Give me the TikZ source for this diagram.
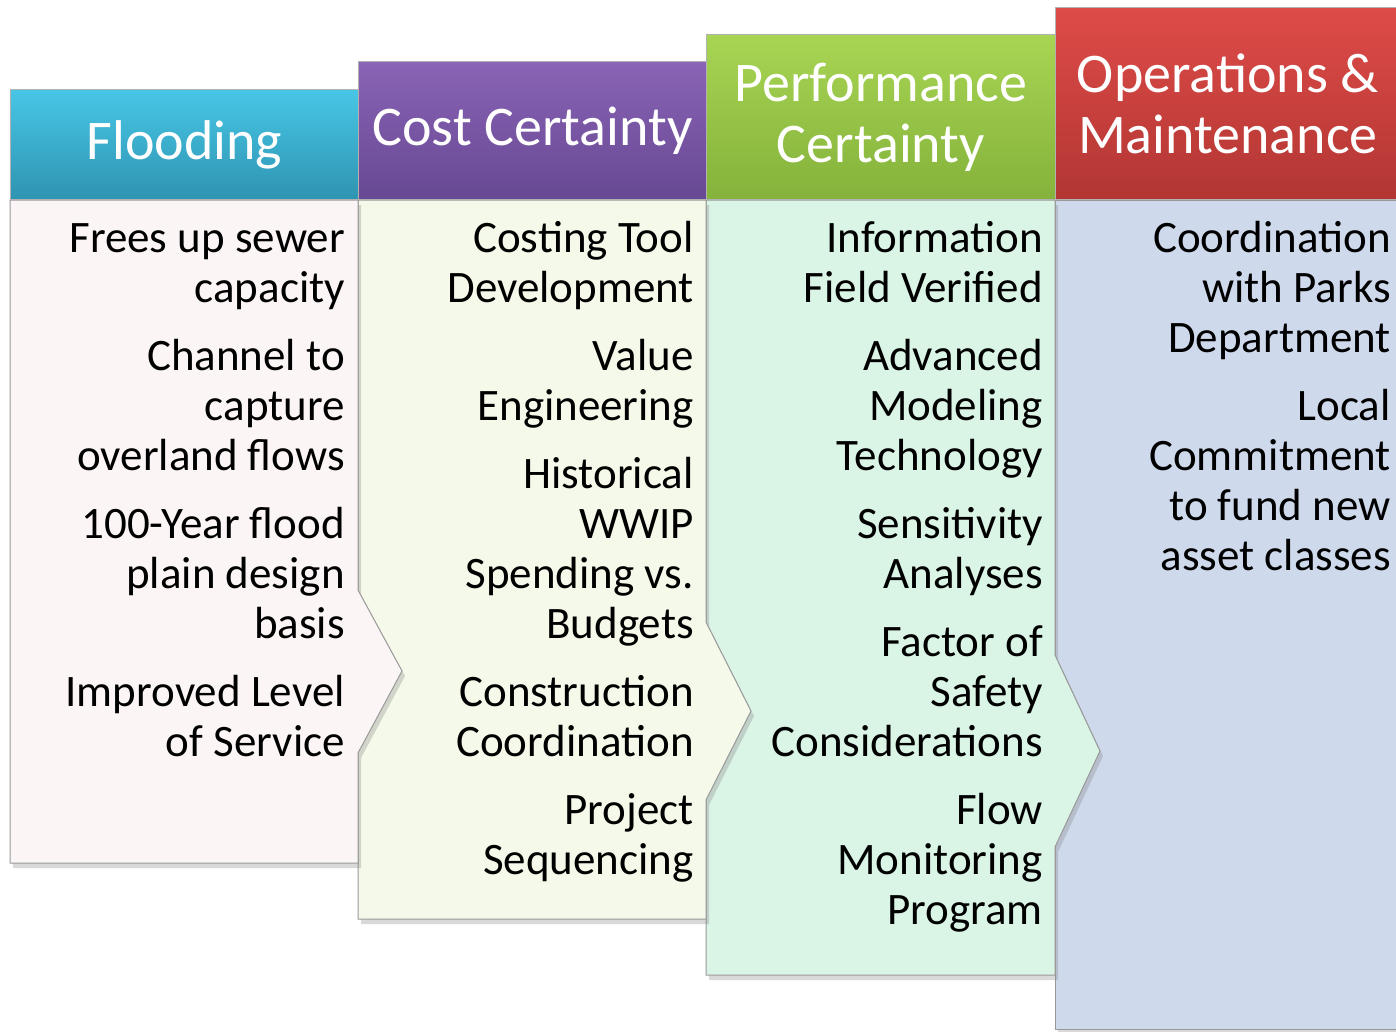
\documentclass[tikz,border=0pt]{standalone}
\usepackage{fontspec}
\setmainfont{Carlito}
\usetikzlibrary{shadows}
\definecolor{floodtop}{HTML}{48C6E6}
\definecolor{floodbot}{HTML}{2E94B1}
\definecolor{costtop}{HTML}{8A64B6}
\definecolor{costbot}{HTML}{674892}
\definecolor{perftop}{HTML}{A8D553}
\definecolor{perfbot}{HTML}{84B23B}
\definecolor{omtop}{HTML}{DE4B48}
\definecolor{ombot}{HTML}{B23633}
\definecolor{floodfill}{HTML}{FCF5F5}
\definecolor{costfill}{HTML}{F5F9E9}
\definecolor{perffill}{HTML}{DAF4E6}
\definecolor{omfill}{HTML}{CFD9EC}

\begin{document}
\begin{tikzpicture}[x=1pt,y=-1pt,
    head/.style={rectangle, anchor=south west, inner sep=0pt, text=white, align=center,
        font=\fontsize{56}{61}\selectfont, draw=black!30, line width=0.8pt},
    panel/.style={draw=black!40, line width=1pt,
        drop shadow={shadow xshift=3pt, shadow yshift=-5pt, opacity=0.3}},
    items/.style={anchor=north east, inner sep=0pt, align=right,
        font=\fontsize{45}{50}\selectfont}]
    \useasboundingbox (0,0) rectangle (1396,1031);

    % bodies, back to front
    \path[panel, fill=omfill] (1055,200) -- (1400,200) -- (1400,1029) -- (1055,1029) -- cycle;
    \path[panel, fill=perffill] (706,200) -- (1055,200) -- (1055,655) -- (1100,751)
        -- (1055,847) -- (1055,975) -- (706,975) -- cycle;
    \path[panel, fill=costfill] (358,200) -- (706,200) -- (706,622) -- (751,711)
        -- (706,800) -- (706,919) -- (358,919) -- cycle;
    \path[panel, fill=floodfill] (10,200) -- (358,200) -- (358,590) -- (402,671)
        -- (358,753) -- (358,863) -- (10,863) -- cycle;

    % headers
    \node[head, top color=floodtop, bottom color=floodbot, minimum width=348pt, minimum height=110pt]
        (flood) at (10,200) {Flooding};
    \node[head, top color=costtop, bottom color=costbot, minimum width=348pt, minimum height=138pt]
        (cost) at (358,200) {Cost Certainty};
    \node[head, top color=perftop, bottom color=perfbot, minimum width=349pt, minimum height=165pt]
        (perf) at (706,200) {Performance\\Certainty};
    \node[head, top color=omtop, bottom color=ombot, minimum width=345pt, minimum height=192pt]
        (om) at (1055,200) {Operations \&\\Maintenance};

    % column texts
    \node[items] (floodtxt) at (345,217) {\strut Frees up sewer\\capacity\\[18pt]
        Channel to\\capture\\overland flows\\[18pt]
        100-Year flood\\plain design\\basis\\[18pt]
        Improved Level\\of Service};
    \node[items] (costtxt) at (694,217) {\strut Costing Tool\\Development\\[18pt]
        Value\\Engineering\\[18pt]
        Historical\\WWIP\\Spending vs.\\Budgets\\[18pt]
        Construction\\Coordination\\[18pt]
        Project\\Sequencing};
    \node[items] (perftxt) at (1043,217) {\strut Information\\Field Verified\\[18pt]
        Advanced\\Modeling\\Technology\\[18pt]
        Sensitivity\\Analyses\\[18pt]
        Factor of\\Safety\\Considerations\\[18pt]
        Flow\\Monitoring\\Program};
    \node[items] (omtxt) at (1391,217) {\strut Coordination\\with Parks\\Department\\[18pt]
        Local\\Commitment\\to fund new\\asset classes};
\end{tikzpicture}
\end{document}
